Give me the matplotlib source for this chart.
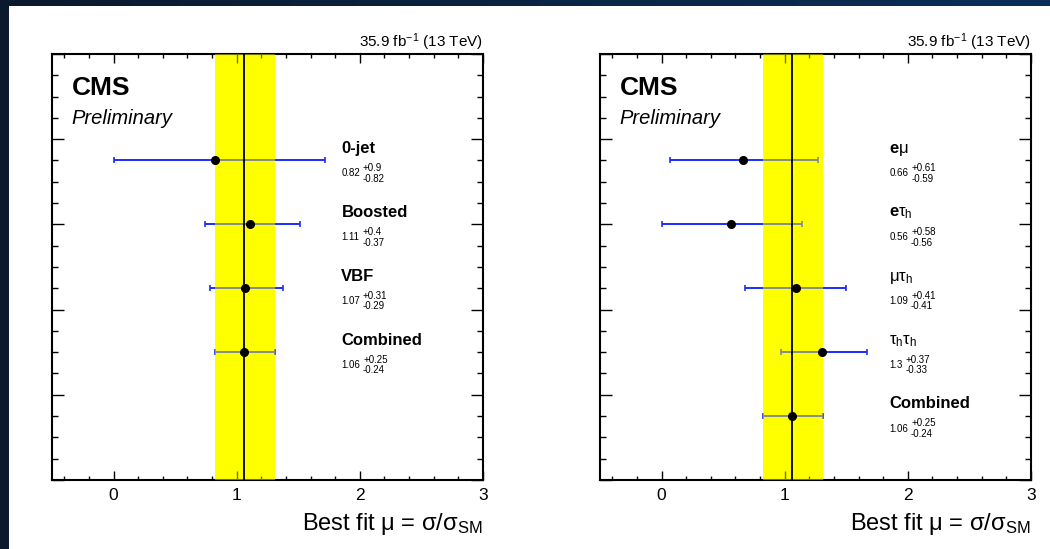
import numpy as np
import matplotlib
matplotlib.use('Agg')
import matplotlib.pyplot as plt
from matplotlib.patches import Rectangle
from matplotlib.ticker import MultipleLocator

plt.rcParams['font.family'] = ['Liberation Sans', 'DejaVu Sans']
plt.rcParams['mathtext.fontset'] = 'custom'
plt.rcParams['mathtext.rm'] = 'Liberation Sans'
plt.rcParams['mathtext.it'] = 'Liberation Sans:italic'
plt.rcParams['mathtext.bf'] = 'Liberation Sans:bold'

# left panel: categories
left_labels = ['0-jet', 'Boosted', 'VBF', 'Combined']
left_mu = [0.82, 1.11, 1.07, 1.06]
left_up = [0.9, 0.4, 0.31, 0.25]
left_dn = [0.82, 0.37, 0.29, 0.24]

# right panel: decay channels
right_labels = [r'e$\mathrm{\mu}$', r'e$\mathrm{\tau_h}$', r'$\mathrm{\mu\tau_h}$',
                r'$\mathrm{\tau_h\tau_h}$', 'Combined']
right_mu = [0.66, 0.56, 1.09, 1.3, 1.06]
right_up = [0.61, 0.58, 0.41, 0.37, 0.25]
right_dn = [0.59, 0.56, 0.41, 0.33, 0.24]

# combined result (band)
comb_mu = 1.06
comb_up = 0.25
comb_dn = 0.24

lumi_text = r'35.9 fb$^{-1}$ (13 TeV)'
xlabel = r'Best fit μ = σ/σ$_{\mathrm{SM}}$'
ytop = 6.667

fig = plt.figure(figsize=(10.5, 5.49), dpi=100)

# dark slide background + white page
bg = fig.add_axes([0, 0, 1, 1], zorder=-5)
grad = np.linspace(0, 1, 256)
c0 = np.array([0.04, 0.10, 0.17])
c1 = np.array([0.04, 0.18, 0.35])
img = (c0[None, :] * (1 - grad[:, None]) + c1[None, :] * grad[:, None])[None, :, :]
bg.imshow(img, extent=(0, 1050, 549, 0), aspect='auto')
bg.add_patch(Rectangle((8.5, 5.5), 1050, 549, color='white', lw=0))
bg.set_xlim(0, 1050)
bg.set_ylim(549, 0)
bg.axis('off')


def panel(ax, labels, mu, up, dn):
    pos = 5 - np.arange(len(mu))
    ax.axvspan(comb_mu - comb_dn, comb_mu + comb_up, color='#ffff00', lw=0, zorder=1)
    ax.errorbar(mu, pos, xerr=[dn, up], fmt='none', ecolor='#1c2dff',
                elinewidth=1.4, capsize=2.5, capthick=1.2, zorder=2)
    # band drawn again semi-transparent so the bars look grey inside it
    ax.axvspan(comb_mu - comb_dn, comb_mu + comb_up, color='#ffff00', alpha=0.45, lw=0, zorder=3)
    ax.axvline(comb_mu, color='black', lw=1.3, zorder=4)
    ax.plot(mu, pos, 'o', color='black', ms=5.5, zorder=5)

    for p, lab, m, u, d in zip(pos, labels, mu, up, dn):
        ax.text(1.85, p + 0.12, lab, fontsize=12, fontweight='bold', va='baseline')
        t = ax.text(1.85, p - 0.2, f'{m:g}', fontsize=7, va='center')
        ax.annotate(f'+{u:g}', xy=(1, 0.5), xycoords=t, xytext=(2, 0.3),
                    textcoords='offset points', fontsize=7, va='bottom')
        ax.annotate(f'-{d:g}', xy=(1, 0.5), xycoords=t, xytext=(2, -0.3),
                    textcoords='offset points', fontsize=7, va='top')

    ax.set_xlim(-0.5, 3)
    ax.set_ylim(0, ytop)
    ax.xaxis.set_major_locator(MultipleLocator(1))
    ax.xaxis.set_minor_locator(MultipleLocator(0.2))
    ax.set_yticks(np.linspace(0, ytop, 6))
    ax.set_yticks(np.linspace(0, ytop, 21), minor=True)
    ax.set_yticklabels([])
    ax.tick_params(axis='both', which='both', direction='in', top=True, right=True, width=1)
    ax.tick_params(axis='x', which='major', length=6.5, labelsize=12.5, pad=6)
    ax.tick_params(axis='x', which='minor', length=3)
    ax.tick_params(axis='y', which='major', length=8.5)
    ax.tick_params(axis='y', which='minor', length=4)
    for s in ax.spines.values():
        s.set_linewidth(1.5)

    ax.set_xlabel(xlabel, fontsize=17, ha='right', va='baseline')
    ax.xaxis.set_label_coords(1.0, -0.117)
    ax.text(1.0, 1.017, lumi_text, transform=ax.transAxes, ha='right', va='baseline', fontsize=11)
    ax.text(0.046, 0.904, 'CMS', transform=ax.transAxes, fontsize=19, fontweight='bold', va='baseline')
    ax.text(0.046, 0.836, 'Preliminary', transform=ax.transAxes, fontsize=14.5, style='italic', va='baseline')


ax1 = fig.add_axes([0.0495, 0.1257, 0.4105, 0.776])
ax2 = fig.add_axes([0.5714, 0.1257, 0.4105, 0.776])
panel(ax1, left_labels, left_mu, left_up, left_dn)
panel(ax2, right_labels, right_mu, right_up, right_dn)

fig.savefig('out.png', dpi=100)
